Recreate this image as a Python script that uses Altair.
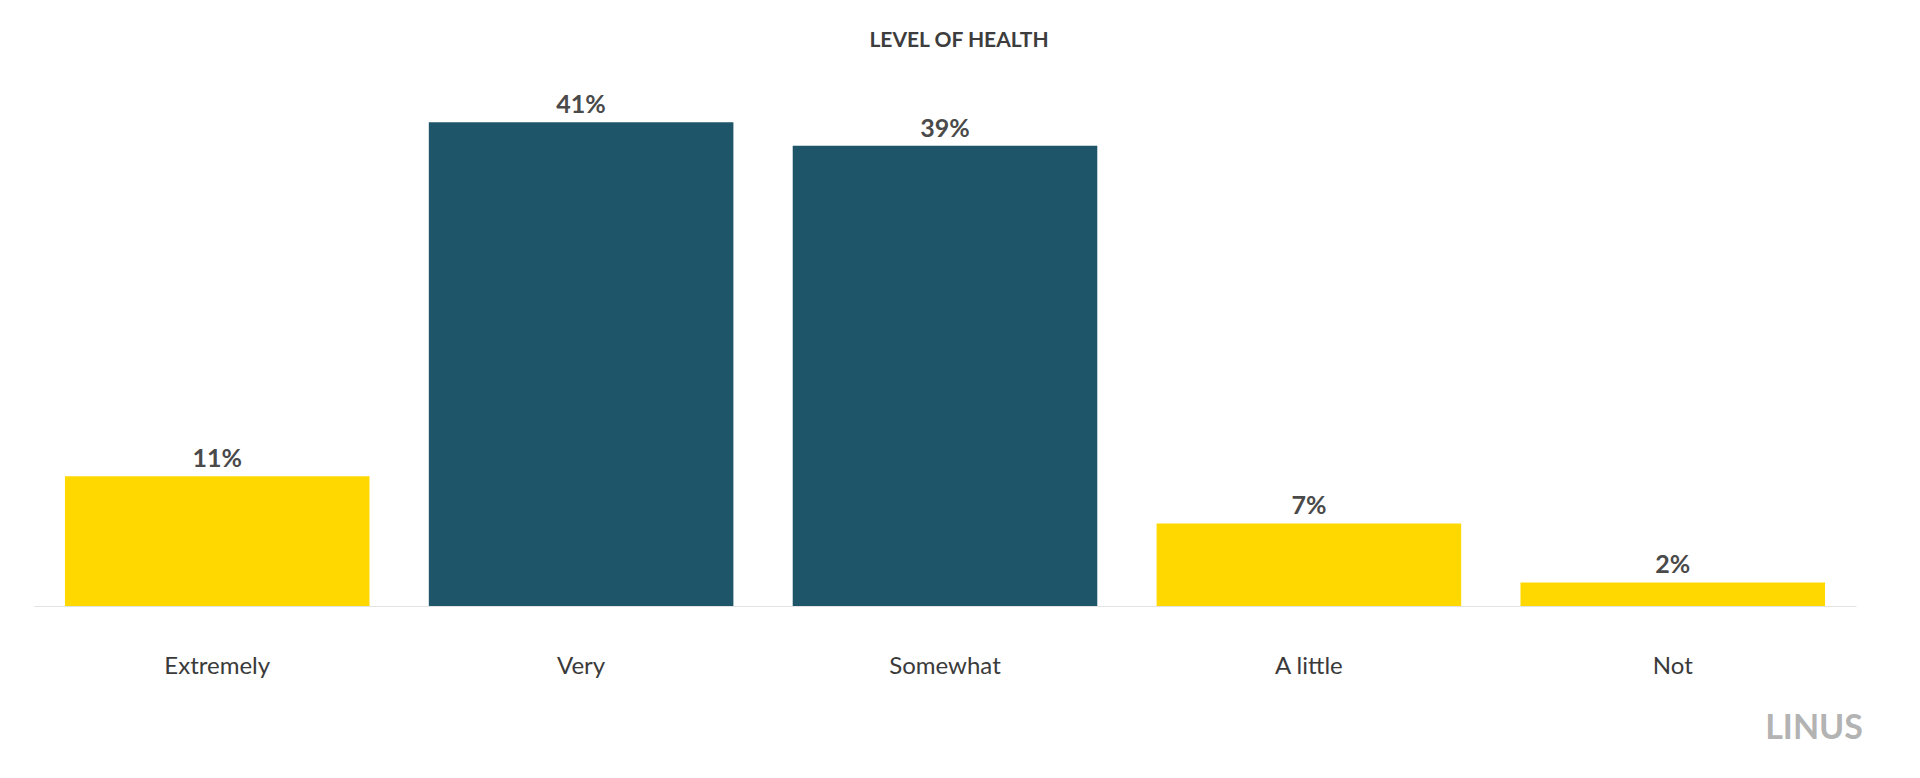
import altair as alt
import pandas as pd

categories = ["Extremely", "Very", "Somewhat", "A little", "Not"]
values = [11, 41, 39, 7, 2]
labels = ["11%", "41%", "39%", "7%", "2%"]
groups = ["edge", "core", "core", "edge", "edge"]

df = pd.DataFrame({"cat": categories, "val": values, "label": labels, "grp": groups})

FONT = "Lato"

x = alt.X("cat:N", sort=categories,
          scale=alt.Scale(paddingInner=0.163, paddingOuter=0.085),
          axis=alt.Axis(title=None, labelAngle=0, labelFontSize=24, labelFont=FONT,
                        labelColor="#3a3a3a", labelPadding=48, ticks=False,
                        domainColor="#e3e3e3", domainWidth=1.2, grid=False))
y = alt.Y("val:Q", scale=alt.Scale(domain=[0, 45]), axis=None)

bars = alt.Chart(df).mark_bar().encode(
    x=x, y=y,
    color=alt.Color("grp:N", scale=alt.Scale(domain=["edge", "core"], range=["#FFD800", "#1F5568"]), legend=None),
)

text = alt.Chart(df).mark_text(baseline="bottom", dy=-4, fontSize=25, fontWeight="bold",
                               font=FONT, color="#4a4a4a").encode(
    x=alt.X("cat:N", sort=categories), y="val:Q", text="label:N")

logo = alt.Chart(pd.DataFrame({"t": ["LINUS"]})).mark_text(
    align="right", baseline="alphabetic", fontSize=34, fontWeight="bold", font=FONT,
    color="#b3b3b3").encode(x=alt.value(1829), y=alt.value(664), text="t:N")

chart = alt.layer(bars, text, logo).properties(
    width=1822, height=531,
    background="white",
    autosize=alt.AutoSizeParams(type="none"),
    padding={"left": 26, "top": 67, "right": 40, "bottom": 150},
    title=alt.Title("LEVEL OF HEALTH", fontSize=21, fontWeight="bold", font=FONT,
                    color="#3d3d3d", offset=24, dx=14, anchor="middle"),
).configure_view(strokeWidth=0, stroke=None)

chart.save("out.html", embed_options={"renderer": "svg", "actions": False})
